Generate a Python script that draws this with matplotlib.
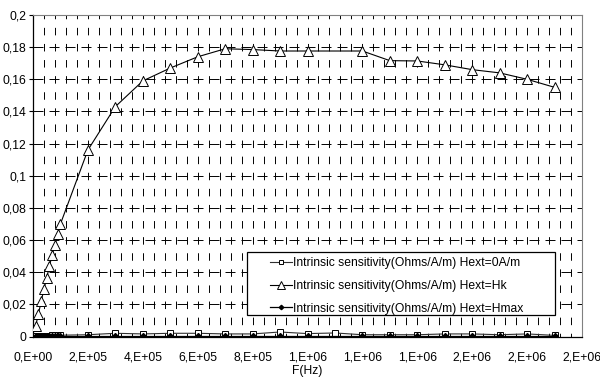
import matplotlib
matplotlib.use("Agg")
import matplotlib.pyplot as plt
from matplotlib.patches import Rectangle
import numpy as np

plt.rcParams['font.family'] = ['Liberation Sans', 'DejaVu Sans']
plt.rcParams['font.size'] = 8.7

# ---- data ----
freq_all = [1e4, 2e4, 3e4, 4e4, 5e4, 6e4, 7e4, 8e4, 9e4, 1e5,
            2e5, 3e5, 4e5, 5e5, 6e5, 7e5, 8e5, 9e5, 1e6, 1.1e6,
            1.2e6, 1.3e6, 1.4e6, 1.5e6, 1.6e6, 1.7e6, 1.8e6, 1.9e6]
sens_h0 = [0.0004, 0.0005, 0.0005, 0.0006, 0.0006, 0.0006, 0.0007, 0.0007, 0.0007, 0.0008,
           0.0011, 0.0020, 0.0016, 0.0020, 0.0020, 0.0016, 0.0016, 0.0028, 0.0018, 0.0022,
           0.0011, 0.0011, 0.0011, 0.0016, 0.0016, 0.0011, 0.0016, 0.0007]

freq_hk = [1e4, 2e4, 3e4, 4e4, 5e4, 6e4, 7e4, 8e4, 9e4, 1e5,
           2e5, 3e5, 4e5, 5e5, 6e5, 7e5, 8e5, 9e5, 1e6,
           1.2e6, 1.3e6, 1.4e6, 1.5e6, 1.6e6, 1.7e6, 1.8e6, 1.9e6]
sens_hk = [0.0068, 0.0143, 0.0219, 0.0296, 0.0366, 0.0437, 0.0510, 0.0570, 0.0638, 0.0700,
           0.1160, 0.1430, 0.1590, 0.1670, 0.1740, 0.1790, 0.1785, 0.1776, 0.1776,
           0.1776, 0.1716, 0.1714, 0.1690, 0.1660, 0.1640, 0.1600, 0.1550]

freq_hmax = [1e4, 2e4, 3e4, 4e4, 5e4, 6e4, 7e4, 8e4, 9e4, 1e5,
             2e5, 3e5, 4e5, 5e5, 6e5, 7e5, 8e5, 9e5, 1e6,
             1.2e6, 1.3e6, 1.4e6, 1.5e6, 1.6e6, 1.7e6, 1.8e6, 1.9e6]
sens_hmax = [0.0001] * 27

labels = ["Intrinsic sensitivity(Ohms/A/m) Hext=0A/m",
          "Intrinsic sensitivity(Ohms/A/m) Hext=Hk",
          "Intrinsic sensitivity(Ohms/A/m) Hext=Hmax"]

x_ticks = [0, 2e5, 4e5, 6e5, 8e5, 1e6, 1.2e6, 1.4e6, 1.6e6, 1.8e6, 2e6]
x_ticklabels = ["0,E+00", "2,E+05", "4,E+05", "6,E+05", "8,E+05", "1,E+06",
                "1,E+06", "1,E+06", "2,E+06", "2,E+06", "2,E+06"]
y_ticks = [0, 0.02, 0.04, 0.06, 0.08, 0.1, 0.12, 0.14, 0.16, 0.18, 0.2]
y_ticklabels = ["0", "0,02", "0,04", "0,06", "0,08", "0,1", "0,12", "0,14",
                "0,16", "0,18", "0,2"]

# ---- figure ----
fig = plt.figure(figsize=(6.0, 3.79), dpi=100)
ax = fig.add_axes([33/600, 1-336.5/379, (582-33)/600, (336.5-15)/379])

ax.set_xlim(0, 2e6)
ax.set_ylim(0, 0.2)

# gridlines
px = 0.72
for xv in np.arange(4e4, 2e6, 4e4):
    ax.axvline(xv, color='black', lw=0.7, zorder=1,
               linestyle=(7.5*px/2/0.7, (7.5*px/0.7, 8.6*px/0.7)))
for yv in y_ticks[1:-1]:
    ax.axhline(yv, color='black', lw=0.7, zorder=1,
               linestyle=(0, (10*px/0.7, 6*px/0.7)))

l1, = ax.plot(freq_all, sens_h0, color='#303030', lw=0.8, marker='s', ms=4,
              mfc='white', mec='black', mew=0.7, zorder=3, label=labels[0])
l2, = ax.plot(freq_hk, sens_hk, color='black', lw=0.8, marker='^', ms=7,
              mfc='white', mec='black', mew=0.7, zorder=4, label=labels[1])
l3, = ax.plot(freq_hmax, sens_hmax, color='black', lw=0.9, marker='D', ms=3,
              mfc='black', mec='black', zorder=4, label=labels[2])

ax.set_xticks(x_ticks)
ax.set_xticklabels(x_ticklabels)
ax.set_yticks(y_ticks)
ax.set_yticklabels(y_ticklabels)
ax.tick_params(axis='x', length=0, pad=10.5)
ax.tick_params(axis='y', direction='out', length=3, width=0.8, pad=2)
ax.set_xlabel("F(Hz)", labelpad=1.5)

for s in ['top', 'right']:
    ax.spines[s].set_color('#808080')
    ax.spines[s].set_linewidth(0.8)
for s in ['left', 'bottom']:
    ax.spines[s].set_color('black')
    ax.spines[s].set_linewidth(0.9)

# legend box
rect = Rectangle((247/600, 1-315/379), (555-247)/600, (315-252.3)/379,
                 transform=fig.transFigure, facecolor='white', edgecolor='black',
                 lw=0.9, zorder=5)
fig.patches.append(rect)
leg = fig.legend(handles=[l1, l2, l3], labels=labels, loc='center left',
                 bbox_to_anchor=(270/600, 1-285.8/379), frameon=False,
                 handlelength=1.8, handletextpad=0.1, labelspacing=0.9,
                 borderpad=0, borderaxespad=0, fontsize=8.7, markerscale=0.75)
leg.set_zorder(6)

fig.savefig("out.png", dpi=100)
